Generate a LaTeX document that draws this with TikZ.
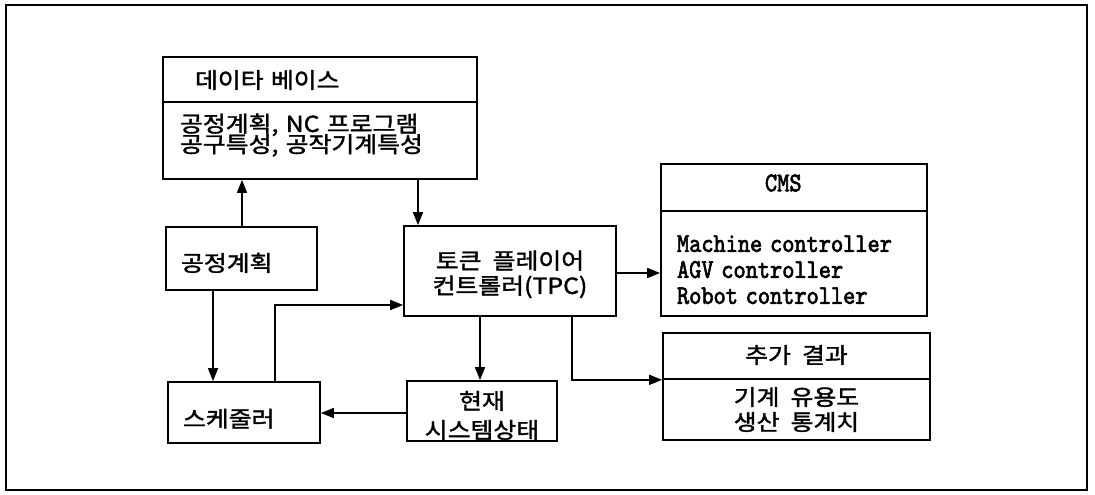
\documentclass[tikz,border=0pt]{standalone}
\usepackage{fontspec}
\setmainfont{Noto Sans CJK KR}[FakeStretch=1.13,WordSpace=2,FakeBold=1.6]
\setmonofont{lmmono10-regular.otf}[FakeBold=2.5]
\usepackage{graphicx}
\usetikzlibrary{arrows.meta}

\tikzset{
  x=1pt, y=-1pt,
  box/.style={draw, line width=1.7pt, inner sep=0pt, align=center,
    font=\fontsize{22}{25}\selectfont,
    execute at begin node={\lineskiplimit=-100pt\relax}},
  mono/.style={font=\ttfamily\fontsize{27}{26}\selectfont},
  arr/.style={line width=1.5pt, -{Triangle[length=13pt,width=10pt]}},
  frame/.style={line width=1.9pt},
}

\begin{document}
\begin{tikzpicture}
\useasboundingbox (0,0) rectangle (1095,495);
\draw[frame] (6,5) rectangle (1087,490);

% helper coordinates for connector positions
\coordinate (x213) at (213,0);
\coordinate (x242) at (242,0);
\coordinate (x275) at (275,0);
\coordinate (x418) at (418,0);
\coordinate (x480) at (480,0);
\coordinate (x572) at (572,0);
\coordinate (y273) at (0,273);
\coordinate (y305) at (0,305);
\coordinate (y413) at (0,413);

% database
\node[box, minimum width=314pt, minimum height=45pt, text width=250pt, align=left,
  text height=17.5pt, text depth=0pt]
  (dbt) at (320,79.5) {데이타 베이스};
\node[box, minimum width=314pt, minimum height=77pt, text width=280pt, align=left,
  font=\fontsize{22}{20.5}\selectfont]
  (dbb) at (320,140.5) {공정계획, NC 프로그램\\공구특성, 공작기계특성\rule[-15pt]{0pt}{15pt}};

% left column
\node[box, minimum width=151pt, minimum height=63pt, text width=121pt, align=left,
  text height=25.5pt, text depth=0pt] (plan) at (241.5,258.5) {공정계획};
\node[box, minimum width=152pt, minimum height=61pt, text width=122pt, align=left,
  text height=29pt, text depth=0pt] (sched) at (244,412.5) {스케줄러};

% middle
\node[box, minimum width=212pt, minimum height=90pt] (tpc) at (510,271)
  {\rule{0pt}{25pt}토큰 플레이어\\컨트롤러(TPC)};
\node[box, minimum width=150pt, minimum height=60pt] (cur) at (482,411)
  {\rule{0pt}{27pt}현재\\[4pt]시스템상태};

% CMS
\node[box, mono, minimum width=266pt, minimum height=47pt, text width=58pt, align=left,
  text height=7.5pt, text depth=0pt]
  (cmst) at (794,187.5) {\scalebox{0.86}[1]{CMS}};
\node[box, mono, minimum width=266pt, minimum height=105pt, text width=234pt, align=left]
  (cmsb) at (794,263.5)
  {\rule{0pt}{29pt}\scalebox{0.86}[1]{Machine controller}\\
   \scalebox{0.86}[1]{AGV controller}\\
   \scalebox{0.86}[1]{Robot controller}};

% additional results
\node[box, minimum width=267pt, minimum height=46pt, text height=14.5pt, text depth=0pt]
  (rest) at (796.5,356) {추가 결과};
\node[box, minimum width=267pt, minimum height=61pt] (resb) at (796.5,409.5)
  {기계 유용도\\생산 통계치};

% connectors
\draw[arr] (plan.north -| x242) -- (dbb.south -| x242);
\draw[arr] (dbb.south -| x418) -- (tpc.north -| x418);
\draw[arr] (plan.south -| x213) -- (sched.north -| x213);
\draw[arr] (sched.north -| x275) |- (tpc.west |- y305);
\draw[arr] (tpc.east |- y273) -- (cmsb.west |- y273);
\draw[arr] (tpc.south -| x480) -- (cur.north -| x480);
\draw[arr] (tpc.south -| x572) |- (rest.south west);
\draw[arr] (cur.west |- y413) -- (sched.east |- y413);
\end{tikzpicture}
\end{document}
